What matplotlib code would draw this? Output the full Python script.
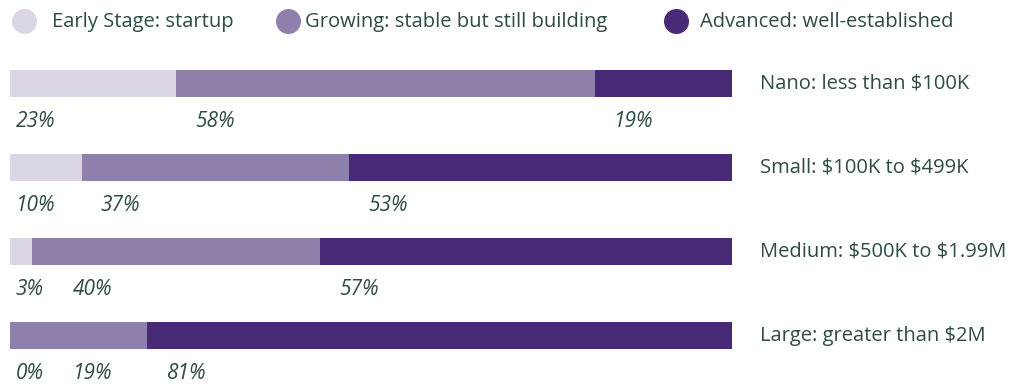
import numpy as np
import matplotlib.pyplot as plt
from matplotlib.lines import Line2D

plt.rcParams['font.family'] = ['Open Sans', 'DejaVu Sans']
plt.rcParams['text.parse_math'] = False

# stage shares by company size (percent)
sizes = ['Nano: less than $100K', 'Small: $100K to $499K',
         'Medium: $500K to $1.99M', 'Large: greater than $2M']
stages = ['Early Stage: startup', 'Growing: stable but still building',
          'Advanced: well-established']
early = [23, 10, 3, 0]
growing = [58, 37, 40, 19]
advanced = [19, 53, 57, 81]

colors = ['#dcd5e6', '#8f80ab', '#482a77']
txt = '#2f4a47'

W, H = 1026, 384
fig = plt.figure(figsize=(W / 100, H / 100), dpi=100)
ax = fig.add_axes([10 / W, 0, 722 / W, 1])

# one row = 84 px, first bar centred 83.5 px from the top
row_px = 84
top = -83.5 / row_px
bottom = (H - 83.5) / row_px
ax.set_ylim(bottom, top)
ax.set_xlim(0, 100)
ax.axis('off')

series = [early, growing, advanced]
y = np.arange(len(sizes))
left = np.zeros(len(sizes))
for vals, c in zip(series, colors):
    ax.barh(y, vals, left=left, height=27 / row_px, color=c, linewidth=0)
    left += np.array(vals)

# percent labels under each bar, pushed right so they never overlap
for i in range(len(sizes)):
    start = 0
    prev = None
    for j, vals in enumerate(series):
        xpos = start + (0.8 if j == 0 else 2.6)
        if prev is not None:
            xpos = max(xpos, prev + 7.9)
        ax.text(xpos, i + 38 / row_px, f'{vals[i]}%', style='italic',
                fontsize=15, color=txt, ha='left', va='center')
        prev = xpos
        start += vals[i]
    ax.text(100 + 28 / 7.22, i, sizes[i], fontsize=14.5, color=txt,
            ha='left', va='center', clip_on=False)

# legend row across the top
circle_x = [24, 288, 676]
label_x = [52, 305, 700]
for cx, lx, c, lab in zip(circle_x, label_x, colors, stages):
    fig.add_artist(Line2D([cx / W], [1 - 21 / H], marker='o', markersize=17,
                          color=c, linestyle='none'))
    fig.text(lx / W, 1 - 22 / H, lab, fontsize=14.5, color=txt,
             ha='left', va='center')

fig.savefig('out.png', dpi=100)
